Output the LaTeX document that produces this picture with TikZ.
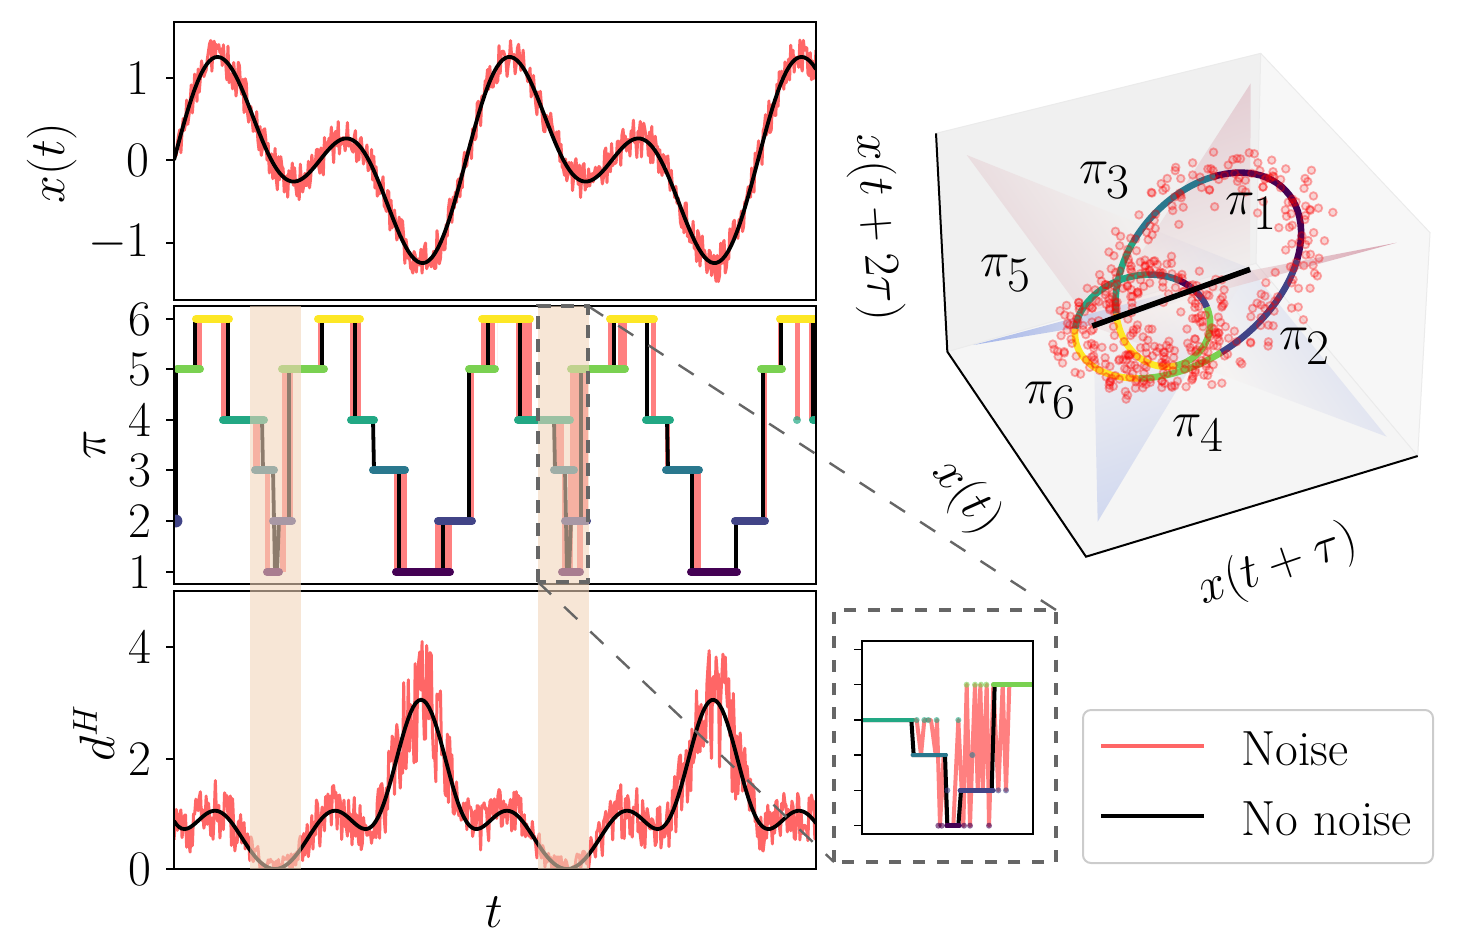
\documentclass[tikz,border=0pt]{standalone}
\usepackage{amsmath}
\definecolor{vsix}{HTML}{FDE725}
\definecolor{vfive}{HTML}{7AD151}
\definecolor{vfour}{HTML}{22A884}
\definecolor{vthree}{HTML}{2A788E}
\definecolor{vtwo}{HTML}{414487}
\definecolor{vone}{HTML}{440154}
\definecolor{bandc}{RGB}{241,212,186}
\definecolor{dashc}{HTML}{666666}
\definecolor{planered}{HTML}{C06078}
\definecolor{planeblue}{HTML}{6080E0}
\definecolor{planemid}{HTML}{F6EEEA}
\tikzset{
  frame/.style={draw=black,line width=1pt,outer sep=0pt},
  tick/.style={draw=black,line width=1pt},
  ticklab/.style={font=\fontsize{26}{26}\selectfont,inner sep=0pt},
  axlab/.style={font=\fontsize{27}{27}\selectfont,inner sep=0pt},
  noisy/.style={draw=red!60,line width=1.5pt,line join=round},
  clean/.style={draw=black,line width=1.9pt,line join=round},
  band/.style={fill=bandc,fill opacity=.59},
  zoombox/.style={draw=dashc,line width=2pt,dash pattern=on 6.5pt off 5pt},
  zoomlink/.style={draw=dashc,line width=1.2pt,dash pattern=on 9pt off 9pt},
  level/.style={line cap=round,line width=4pt,draw=#1},
  inlevel/.style={line cap=round,line width=2.4pt,draw=#1},
  ring/.style={line width=3.3pt,draw=#1},
  pilab/.style={font=\fontsize{38}{38}\selectfont,inner sep=0pt},
  legtext/.style={font=\fontsize{24.7}{24.7}\selectfont,inner sep=0pt,anchor=west},
  scatterdot/.style={draw=red,fill=red,draw opacity=.32,fill opacity=.14,line width=.9pt},
}
\begin{document}
\begin{tikzpicture}[x=0.5pt,y=-0.5pt,
  declare function={
    xsig(\t)=.71*(sin(1.23288*(\t-174))+sin(2.46575*(\t-174)));
    dsig(\t)=1.083-.961*cos(1.23288*(\t-275))+.296*cos(2.46575*(\t-275))-.564*cos(3.69863*(\t-275))+.146*cos(4.93151*(\t-275));
    ringx(\p)=740.25+136.5*cos(\p)+62*sin(\p)-29.8*cos(2*\p)+232.7*sin(2*\p);
    ringy(\p)=737.5-153.7*cos(\p)-9.8*sin(\p)-202.9*cos(2*\p)-75.8*sin(2*\p);
  }]
\useasboundingbox (0,0) rectangle (1460,949);
\pgfmathsetseed{4242}
% ---- panel 1
\begin{scope}
\clip (174,22) rectangle (816,300);
\draw[noisy] plot[samples=560,domain=174:816,variable=\t] (\t,{160-82.5*(xsig(\t)+.24*rand)});
\draw[clean] plot[samples=220,domain=174:816,variable=\t] (\t,{160-82.5*xsig(\t)});
\end{scope}
\node[frame,draw,minimum width=321pt,minimum height=139pt,inner sep=0pt,anchor=north west] (pa) at (174,22) {};
\foreach \yy/\lab in {78/$1$,160/$0$,243/$-1$}{
  \draw[tick] (166,\yy) -- (174,\yy);
  \node[ticklab,anchor=east] (lab1\yy) at (150,\yy) {\lab};
}
\node[axlab,rotate=90] (xlab) at (52,163) {$x(t)$};
% ---- panel 2
\begin{scope}
\clip (174,306) rectangle (816,584);
\foreach \a/\b/\c/\d in {
 197/202/369/319, 221/226/319/420, 253/260/420/470, 265/270/470/572, 280/286/521/572, 282/293/369/521,
 318/322/369/319, 350/361/319/420, 394/407/470/572, 435/452/521/572, 470/474/521/369, 481/495/369/319,
 497/497/369/319, 516/532/319/420, 556/564/420/470, 562/566/470/572, 568/573/470/572, 570/588/369/521,
 577/583/521/572, 608/615/369/319, 618/627/369/319, 651/656/319/420, 665/670/420/470, 690/701/470/572,
 764/767/521/369, 778/782/369/319, 795/800/319/420, 809/815/319/420}{
  \fill[red!50] (\a,\c) rectangle (\b,\d);
}
\draw[clean] (176,521) -- (176,369) -- (195,369) -- (195,319) -- (228,319) -- (228,420) -- (262,420) -- (263,470)
 -- (273,470) -- (275,572) -- (277,572) -- (279,521) -- (289,521) -- (289,369) -- (322,369) -- (322,319) -- (355,319)
 -- (355,420) -- (373,420) -- (374,470) -- (399,470) -- (399,572) -- (443,572) -- (443,521) -- (469,521) -- (469,369)
 -- (488,369) -- (488,319) -- (520,319) -- (520,420) -- (554,420) -- (555,470) -- (565,470) -- (567,572) -- (569,572)
 -- (571,521) -- (581,521) -- (581,369) -- (614,369) -- (614,319) -- (647,319) -- (647,420) -- (667,420) -- (668,470)
 -- (692,470) -- (692,572) -- (736,572) -- (736,521) -- (763,521) -- (763,369) -- (781,369) -- (781,319) -- (813,319)
 -- (813,420) -- (818,420);
\foreach \a/\b/\c/\y in {
 196/229/vsix/319, 177/200/vfive/369, 223/264/vfour/420, 255/274/vthree/470, 273/292/vtwo/521,
 267/279/vone/572, 282/324/vfive/369, 318/360/vsix/319, 351/374/vfour/420, 373/405/vthree/470, 396/450/vone/572,
 438/472/vtwo/521, 469/495/vfive/369, 482/530/vsix/319, 518/570/vfour/420, 554/574/vthree/470,
 565/587/vtwo/521, 562/580/vone/572, 571/625/vfive/369, 610/654/vsix/319, 646/670/vfour/420, 666/699/vthree/470,
 691/737/vone/572, 735/765/vtwo/521, 761/782/vfive/369, 780/820/vsix/319, 813/820/vfour/420}{
  \draw[level=\c] (\a,\y) -- (\b,\y);
}
\fill[vtwo] (176,521) circle (3.2pt);
\fill[vfour,opacity=.7] (797,420) circle (2pt);
\end{scope}
\node[frame,draw,minimum width=321pt,minimum height=139pt,inner sep=0pt,anchor=north west] (pb) at (174,306) {};
\foreach \yy/\lab in {319/6,369/5,420/4,470/3,521/2,572/1}{
  \draw[tick] (166,\yy) -- (174,\yy);
  \node[ticklab,anchor=east] (lab2\yy) at (152,\yy) {$\lab$};
}
\node[axlab,rotate=90] (pilabel) at (95,445) {$\pi$};
% ---- panel 3
\begin{scope}
\clip (174,591) rectangle (816,869);
\draw[noisy] plot[samples=560,domain=174:816,variable=\t] (\t,{869-55.5*max(0,dsig(\t)+(.2+.33*dsig(\t))*rand)});
\draw[clean] plot[samples=240,domain=174:816,variable=\t] (\t,{869-55.5*dsig(\t)});
\end{scope}
\node[frame,draw,minimum width=321pt,minimum height=139pt,inner sep=0pt,anchor=north west] (pc) at (174,591) {};
\foreach \yy/\lab in {647/4,759/2,869/0}{
  \draw[tick] (166,\yy) -- (174,\yy);
  \node[ticklab,anchor=east] (lab3\yy) at (152,\yy) {$\lab$};
}
\node[axlab,rotate=90] (dlab) at (94,733) {$d^{H}$};
\node[axlab] (tlab) at (494,912) {$t$};
% ---- bands
\fill[band] (250,306) rectangle (301,869);
\fill[band] (538,306) rectangle (589,869);
% ---- zoom box and links
\coordinate (ztr) at (588,306);
\coordinate (zbl) at (538,582);
\coordinate (itr) at (1056,610);
\coordinate (ibl) at (834,862);
\draw[zoombox] (zbl) rectangle (ztr);
\draw[zoombox,dash pattern=on 6pt off 5.9pt] (ibl) rectangle (itr);
\draw[zoomlink] (ztr) -- (itr);
\draw[zoomlink] (zbl) -- (ibl);
% ---- inset
\begin{scope}[shift={(825,600)},x=.16667pt,y=-.16667pt]
\begin{scope}
\clip (110,122) rectangle (624,703);
\draw[red!50,line width=2pt,line join=round] (262,360) -- (275,360) -- (288,465) -- (298,360) -- (318,360) -- (332,465) -- (336,360)
 -- (345,677) -- (356,465) -- (367,677) -- (385,677) -- (400,360) -- (415,677) -- (425,254) -- (435,677) -- (442,465)
 -- (450,254) -- (458,571) -- (466,254) -- (473,571) -- (485,254) -- (492,677) -- (505,254) -- (520,571) -- (533,254)
 -- (543,571) -- (553,254);
\draw[black,line width=2pt] (110,360) -- (259,360) -- (266,465) -- (360,465) -- (367,677) -- (400,677) -- (408,571)
 -- (500,571) -- (509,254) -- (624,254);
\draw[inlevel=vfour] (110,360) -- (262,360);
\draw[inlevel=vthree] (264,465) -- (362,465);
\draw[inlevel=vone] (365,677) -- (403,677);
\draw[inlevel=vtwo] (405,571) -- (505,571);
\draw[inlevel=vfive] (505,254) -- (630,254);
\foreach \a/\b/\c in {275/360/vfour,298/360/vfour,310/360/vfour,335/360/vfour,400/360/vfour,
 340/677/vone,350/677/vone,367/571/vtwo,417/677/vone,435/677/vone,492/677/vone,442/465/vthree,
 425/254/vfive,450/254/vfive,468/254/vfive,484/254/vfive,520/571/vtwo,543/571/vtwo}{
  \fill[\c,opacity=.6] (\a,\b) circle (1.5pt);
}
\end{scope}
\draw[frame] (110,122) rectangle (624,703);
\foreach \yy in {148,254,360,465,571,677}{
  \draw[tick,line width=.8pt] (88,\yy) -- (110,\yy);
}
\end{scope}
% ---- 3D box
\begin{scope}[shift={(930,50)},x=.16667pt,y=-.16667pt]
\fill[black!6] (18,250) -- (992,10) -- (978,640) -- (52,905) -- cycle;
\fill[black!3] (992,10) -- (1500,548) -- (1463,1218) -- (978,640) -- cycle;
\fill[black!4] (52,905) -- (978,640) -- (1463,1218) -- (468,1520) -- cycle;
\draw[white!92!black,line width=.5pt] (18,250) -- (992,10) -- (1500,548) -- (1463,1218) -- (978,640) -- (52,905);
\draw[white!92!black,line width=.5pt] (992,10) -- (978,640);
% planes
\shade[fill opacity=.24,left color=planered,right color=planeblue,middle color=planemid,shading angle=124]
  (110,315) -- (960,655) -- (1370,1160) -- (490,830) -- cycle;
\shade[fill opacity=.24,top color=planered,bottom color=planeblue,middle color=planemid,shading angle=19]
  (962,100) -- (960,655) -- (503,1415) -- (490,830) -- cycle;
\shade[fill opacity=.5,left color=planeblue,right color=planered,middle color=planemid,shading angle=76]
  (130,885) -- (490,825) -- (1400,578) -- (960,662) -- cycle;
\draw[black,line width=1pt] (18,250) -- (52,905) -- (468,1520) -- (1463,1218);
% ring
\foreach \pa/\pb/\c in {0/54/vone,54/86/vtwo,86/110/vfive,110/149/vsix,149/191/vfour,191/205/vthree,205/210/vone,
 210/224/vtwo,224/265/vfive,265/306/vsix,306/330/vfour,330/361/vthree}{
  \draw[ring=\c] plot[samples=24,domain=\pa:\pb,variable=\p] ({ringx(\p)},{ringy(\p)});
}
% scatter
\foreach \n in {1,...,460}{
  \pgfmathsetmacro{\pp}{\n*.7826}
  \pgfmathsetmacro{\ddx}{(rand+rand+rand)*40}
  \pgfmathsetmacro{\ddy}{(rand+rand+rand)*40}
  \path[scatterdot] ({ringx(\pp)+\ddx},{ringy(\pp)+\ddy}) circle (1.9pt);
}
\coordinate (da) at (487,828);
\coordinate (db) at (960,658);
\draw[black,line width=2.8pt] (da) -- (db);
\node[pilab] (p3) at (525,390) {$\pi_3$};
\node[pilab] (p1) at (965,485) {$\pi_1$};
\node[pilab] (p5) at (228,670) {$\pi_5$};
\node[pilab] (p2) at (1125,890) {$\pi_2$};
\node[pilab] (p6) at (362,1050) {$\pi_6$};
\node[pilab] (p4) at (805,1150) {$\pi_4$};
\end{scope}
\node[axlab,rotate=-86,font=\fontsize{28}{28}\selectfont] (zlab) at (876,227) {$x(t+2\tau)$};
\node[axlab,rotate=-52,font=\fontsize{27}{27}\selectfont] (xxlab) at (966,497) {$x(t)$};
\node[axlab,rotate=19,font=\fontsize{28}{28}\selectfont] (ylab) at (1278,566) {$x(t+\tau)$};
% ---- legend
\node[draw=black!20,line width=1pt,rounded corners=4pt,outer sep=0pt,minimum width=175pt,minimum height=76.5pt,inner sep=0pt,anchor=north west] (leg) at (1083,710) {};
\coordinate (la) at (1101,746);
\coordinate (lb) at (1204,746);
\coordinate (lc) at (1101,816);
\coordinate (ld) at (1204,816);
\draw[noisy,line width=1.8pt] (la) -- (lb);
\draw[clean] (lc) -- (ld);
\node[legtext] (l1) at (1241,749) {Noise};
\node[legtext] (l2) at (1241,819) {No noise};
\end{tikzpicture}
\end{document}
